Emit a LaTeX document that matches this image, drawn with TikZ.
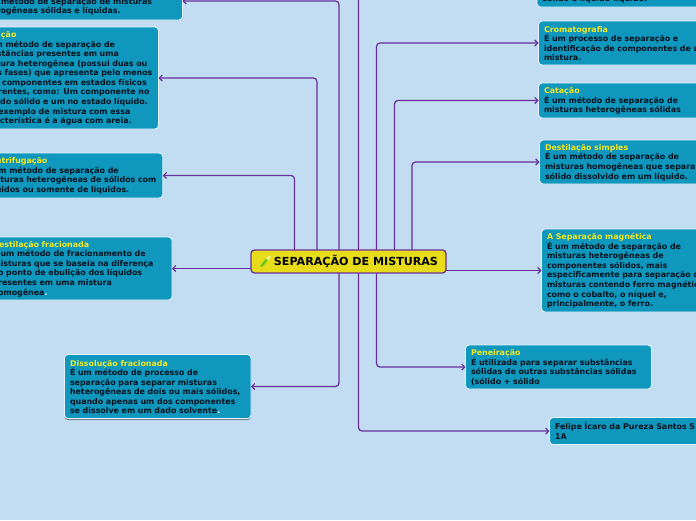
\documentclass[tikz,border=0pt]{standalone}
\usepackage{fontspec}
\setmainfont{DejaVu Sans}
\usetikzlibrary{arrows.meta,shadows}
\definecolor{bgc}{HTML}{C2DDF1}
\definecolor{boxc}{HTML}{1097BD}
\definecolor{edgec}{HTML}{E6F3FA}
\definecolor{linkc}{HTML}{6A2F9A}
\definecolor{inkc}{HTML}{04121F}
\definecolor{titlec}{HTML}{F4E81E}
\definecolor{mainc}{HTML}{E6DC1A}
\newcommand{\boxtitle}[1]{\rule{0pt}{7pt}\textcolor{titlec}{#1}}
\newcommand{\whitedot}{\textcolor{white}{.}}
\tikzset{
  boxw/.style={minimum width=#1 pt,text width={#1 pt-11pt}},
  infobox/.style={draw=edgec,line width=0.9pt,fill=boxc,rounded corners=3.5pt,inner xsep=5.5pt,inner ysep=0pt,
    align=left,text=inkc,font=\fontsize{7.9}{9.55}\selectfont\bfseries,outer sep=0pt},
  mainbox/.style={draw=linkc,line width=1.3pt,fill=mainc,rounded corners=3.5pt,inner sep=0pt,outer sep=0pt,
    minimum width=195pt,minimum height=23pt,text=black,font=\fontsize{11.1}{13}\selectfont\bfseries},
  link/.style={draw=linkc,line width=1.25pt,rounded corners=3.5pt,-{Straight Barb[length=3pt,width=6pt,line width=1.1pt]}}
}
\begin{document}
\begin{tikzpicture}[x=1pt,y=-1pt]
\useasboundingbox (0,0) rectangle (696,520);
\clip (0,0) rectangle (696,520);
\fill[bgc] (0,0) rectangle (696,520);

\node[mainbox] (ctr) at (348.5,261.5) {\hspace{15pt}SEPARAÇÃO DE MISTURAS};
\draw[line width=2.2pt,draw=white!60!mainc,line cap=round] (266.5,260) -- (269.5,257);
\draw[line width=2.4pt,draw=green!55!yellow!75!black!90,line cap=round] (261.5,266) -- (266.5,260);

\node[infobox,boxw=211.5,minimum height=38pt] (tl) at (76.75,1) {\strut\\É um método de separação de misturas\\heterogêneas sólidas e líquidas.};
\node[infobox,boxw=183,minimum height=102pt] (sep) at (67,78) {\hspace*{20pt}\boxtitle{ção}\\É um método de separação de\\substâncias presentes em uma\\mistura heterogênea (possui duas ou\\mais fases) que apresenta pelo menos\\dois componentes em estados físicos\\diferentes, como: Um componente no\\estado sólido e um no estado líquido.\\Um exemplo de mistura com essa\\característica é a água com areia.};
\node[infobox,boxw=183.5,minimum height=45pt] (cen) at (71,175.5) {\boxtitle{Centrifugação}\\É um método de separação de\\misturas heterogêneas de sólidos com\\líquidos ou somente de líquidos.};
\node[infobox,boxw=185,minimum height=63pt] (dfr) at (79.5,268.5) {\boxtitle{Destilação fracionada}\\É um método de fracionamento de\\misturas que se baseia na diferença\\do ponto de ebulição dos líquidos\\presentes em uma mistura\\homogênea\whitedot};
\node[infobox,boxw=186.5,minimum height=64pt,drop shadow={shadow xshift=0pt,shadow yshift=-1.6pt,opacity=.4,fill=black}] (dis) at (157.75,386.5) {\boxtitle{Dissolução fracionada}\\É um método de processo de\\separação para separar misturas\\heterogêneas de dois ou mais sólidos,\\quando apenas um dos componentes\\se dissolve em um dado solvente\whitedot};
\node[infobox,boxw=200,minimum height=54pt] (tr) at (637,-20) {\strut\\\strut\\\strut\\\strut\\sólido e líquido-líquido.};
\node[infobox,boxw=220,minimum height=44pt] (cro) at (648.5,43) {\boxtitle{Cromatografia}\\É um processo de separação e\\identificação de componentes de uma\\mistura.};
\node[infobox,boxw=220,minimum height=35pt] (cat) at (648.5,100.5) {\boxtitle{Catação}\\É um método de separação de\\misturas heterogêneas sólidas};
\node[infobox,boxw=220,minimum height=44pt] (dsi) at (649.5,162) {\boxtitle{Destilação simples}\\É um método de separação de\\misturas homogêneas que separam um\\sólido dissolvido em um líquido.};
\node[infobox,boxw=220,minimum height=83pt] (mag) at (651.5,270.5) {\boxtitle{A Separação magnética}\\É um método de separação de\\misturas heterogêneas de\\componentes sólidos, mais\\especificamente para separação de\\misturas contendo ferro magnético,\\como o cobalto, o níquel e,\\principalmente, o ferro.};
\node[infobox,boxw=186,minimum height=44pt] (pen) at (558.5,367) {\boxtitle{Peneiração}\\É utilizada para separar substâncias\\sólidas de outras substâncias sólidas\\(sólido + sólido};
\node[infobox,boxw=220,minimum height=27pt] (fel) at (659.5,431) {Felipe Ícaro da Pureza Santos S\\1A};

\coordinate (xa) at (294.5,0);
\coordinate (xb) at (317,0);
\coordinate (xc) at (339,0);
\coordinate (xd) at (358.5,0);
\coordinate (xe) at (376.5,0);
\coordinate (xf) at (394.5,0);
\coordinate (xg) at (412,0);

\draw[link] (xa |- ctr.north) |- (cen.east);
\draw[link] (xb |- ctr.north) |- (sep.east);
\draw[link] (xc |- ctr.north) |- (tl.east);
\draw[link] (xd |- ctr.north) |- (tr.west);
\draw[link] (xe |- ctr.north) |- (cro.west);
\draw[link] (xf |- ctr.north) |- (cat.west);
\draw[link] (xg |- ctr.north) |- (dsi.west);
\draw[link] (xc |- ctr.south) |- (dis.east);
\draw[link] (xd |- ctr.south) |- (fel.west);
\draw[link] (xe |- ctr.south) |- (pen.west);
\draw[link] (ctr.west |- dfr.east) -- (dfr.east);
\draw[link] (ctr.east |- mag.west) -- (mag.west);
\end{tikzpicture}
\end{document}
